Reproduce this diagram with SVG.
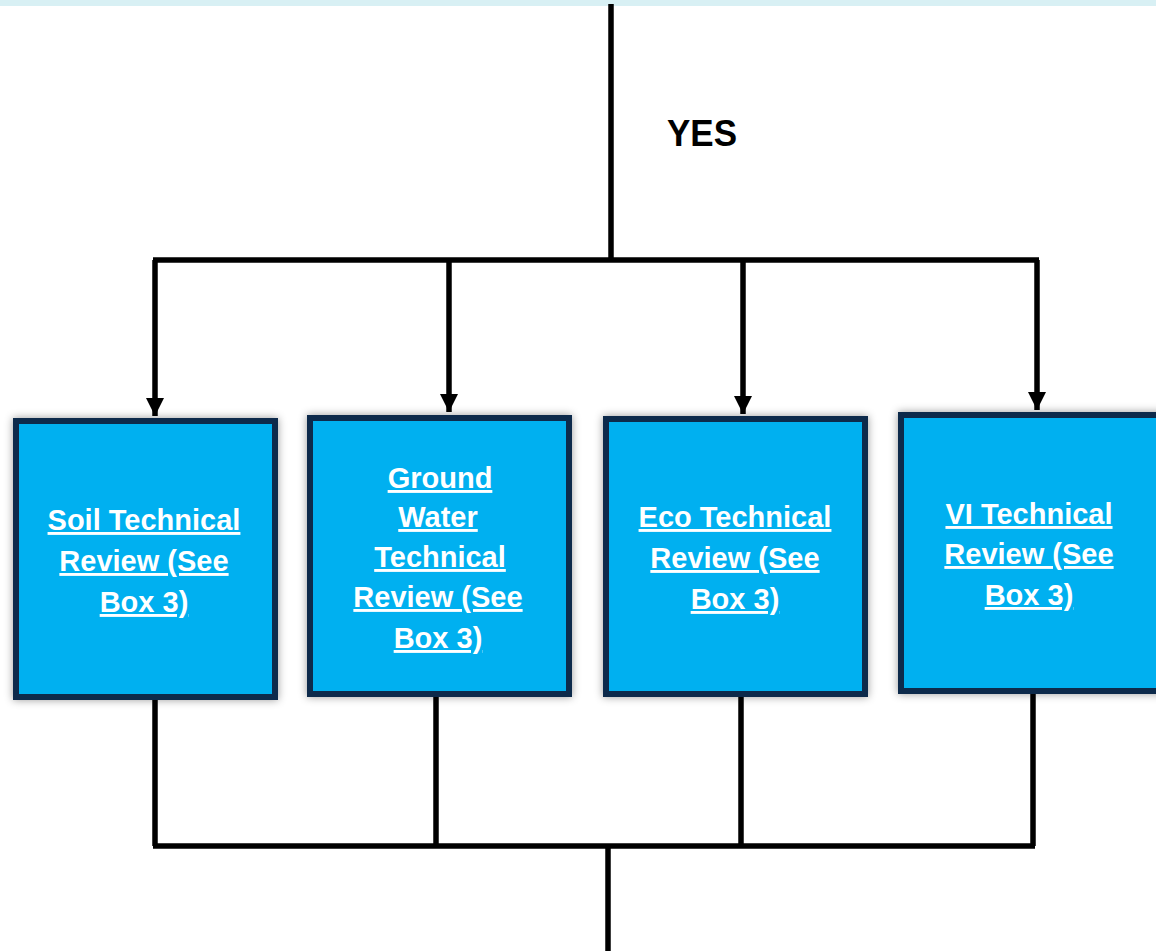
<svg xmlns="http://www.w3.org/2000/svg" width="1156" height="951" viewBox="0 0 1156 951">
<style>
.ln{stroke:#000;stroke-width:5.5;fill:none}
.box{fill:#00b0f0;stroke:#0b2a4c;stroke-width:6;filter:url(#sh)}
.t{font-family:"Liberation Sans",Arial,sans-serif;font-weight:bold;font-size:29px;fill:#fff;text-anchor:middle;text-decoration:underline;text-decoration-skip-ink:none}
.yes{font-family:"Liberation Sans",Arial,sans-serif;font-weight:bold;font-size:36px;fill:#000}
</style>
<defs>
<marker id="ar" markerWidth="18" markerHeight="20" refX="18" refY="9" orient="auto" markerUnits="userSpaceOnUse" viewBox="0 0 18 18">
<path d="M0,0 L18,9 L0,18 z" fill="#000"/>
</marker>
<filter id="sh" x="-10%" y="-10%" width="120%" height="120%">
<feGaussianBlur in="SourceAlpha" stdDeviation="4"/>
<feOffset dx="0" dy="0" result="b"/>
<feFlood flood-color="#000" flood-opacity="0.4"/>
<feComposite in2="b" operator="in"/>
<feMerge><feMergeNode/><feMergeNode in="SourceGraphic"/></feMerge>
</filter>
</defs>
<rect x="0" y="0" width="1156" height="6" fill="#d8f0f4"/>
<g id="connectors">
<line class="ln" x1="611" y1="4" x2="611" y2="260"/>
<line class="ln" x1="153" y1="260" x2="1039" y2="260"/>
<line class="ln" x1="155" y1="260" x2="155" y2="416" marker-end="url(#ar)"/>
<line class="ln" x1="449" y1="260" x2="449" y2="412" marker-end="url(#ar)"/>
<line class="ln" x1="743" y1="260" x2="743" y2="414" marker-end="url(#ar)"/>
<line class="ln" x1="1037" y1="260" x2="1037" y2="410" marker-end="url(#ar)"/>
<line class="ln" x1="155" y1="698" x2="155" y2="846"/>
<line class="ln" x1="436" y1="695" x2="436" y2="846"/>
<line class="ln" x1="741" y1="695" x2="741" y2="846"/>
<line class="ln" x1="1033" y1="692" x2="1033" y2="846"/>
<line class="ln" x1="153" y1="846" x2="1035" y2="846"/>
<line class="ln" x1="608" y1="846" x2="608" y2="951"/>
</g>
<text class="yes" x="667" y="146" textLength="70" lengthAdjust="spacingAndGlyphs">YES</text>
<g id="soil">
<rect class="box" x="16" y="421" width="259" height="276"/>
<text class="t" x="144" y="530">Soil Technical</text>
<text class="t" x="144" y="571">Review (See</text>
<text class="t" x="144" y="612">Box 3)</text>
</g>
<g id="groundwater">
<rect class="box" x="310" y="418" width="259" height="276"/>
<text class="t" x="440" y="488">Ground</text>
<text class="t" x="438" y="527">Water</text>
<text class="t" x="440" y="567">Technical</text>
<text class="t" x="438" y="607">Review (See</text>
<text class="t" x="438" y="648">Box 3)</text>
</g>
<g id="eco">
<rect class="box" x="606" y="419" width="259" height="275"/>
<text class="t" x="735" y="527">Eco Technical</text>
<text class="t" x="735" y="568">Review (See</text>
<text class="t" x="735" y="609">Box 3)</text>
</g>
<g id="vi">
<rect class="box" x="901" y="415" width="262" height="276"/>
<text class="t" x="1029" y="524">VI Technical</text>
<text class="t" x="1029" y="564">Review (See</text>
<text class="t" x="1029" y="605">Box 3)</text>
</g>
</svg>
